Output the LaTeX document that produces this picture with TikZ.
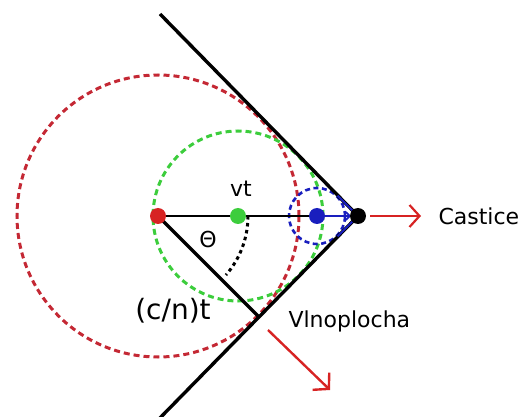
\documentclass[tikz,border=0pt]{standalone}
\usepackage{fontspec}
\setmainfont{DejaVu Sans}
\usetikzlibrary{arrows.meta}
\definecolor{circRed}{RGB}{196, 40, 52}
\definecolor{circGreen}{RGB}{60, 205, 60}
\definecolor{circBlue}{RGB}{25, 30, 190}
\definecolor{arrRed}{RGB}{215, 35, 35}

\begin{document}
\begin{tikzpicture}[x=1pt, y=-1pt,
    dot/.style={circle, inner sep=0pt, minimum size=16pt},
    wavefront/.style={line width=3pt, dash pattern=on 6pt off 4pt},
    lbl/.style={font=\fontsize{22}{26}\selectfont}]
    \useasboundingbox (0,0) rectangle (523,417);
    % points on the axis
    \coordinate (src) at (158,216);
    \coordinate (vpos) at (238,216);
    \coordinate (bpos) at (317,216);
    \coordinate (tip) at (358,216);
    \coordinate (coneTop) at (160,14);
    \coordinate (coneBot) at (157,421);
    \coordinate (front) at (258,316);
    \coordinate (bTop) at (337.5,195.5);
    \coordinate (bBot) at (337.5,236.5);
    \coordinate (partHead) at (421,216);
    \coordinate (waveTail) at (268,330);
    \coordinate (waveHead) at (330,390);

    % wave fronts
    \draw[circRed, wavefront] (src) circle [radius=141pt];
    \draw[circGreen, wavefront] (vpos) circle [radius=85pt];
    \draw[circBlue, line width=2.6pt, dash pattern=on 5pt off 3.5pt] (bpos) circle [radius=28pt];

    % cone and axis
    \draw[line width=3.4pt] (coneTop) -- (tip) -- (coneBot);
    \draw[circBlue, line width=2pt] (bTop) -- (tip) -- (bBot);
    \draw[line width=2.4pt] (src) -- (tip);
    \draw[circBlue, line width=1.6pt, -{Straight Barb[length=4pt,width=8pt]}] (bpos) -- ([xshift=-7pt]tip);
    \draw[line width=3.4pt] (src) -- (front);
    \draw[line width=3pt, dash pattern=on 3.5pt off 3.5pt] (src) ++(90,0) arc [start angle=0, end angle=-41, radius=90pt];

    % arrows
    \draw[arrRed, line width=2.2pt, -{Straight Barb[length=10pt,width=22pt]}] ([xshift=12pt]tip) -- (partHead);
    \draw[arrRed, line width=2.4pt, -{Straight Barb[length=11pt,width=24pt]}] (waveTail) -- (waveHead);

    % dots
    \node[dot, fill=arrRed] (srcDot) at (src) {};
    \node[dot, fill=circGreen] (vDot) at (vpos) {};
    \node[dot, fill=circBlue] (bDot) at (bpos) {};
    \node[dot, fill=black] (tipDot) at (tip) {};

    % labels
    \node[lbl] (vtLbl) at (241,189) {vt};
    \node[lbl] (thLbl) at (208,239) {Θ};
    \node[font=\fontsize{28}{32}\selectfont] (cnLbl) at (173,311) {(c/n)t};
    \node[lbl, anchor=west] (waveLbl) at (285,321) {Vlnoplocha};
    \node[lbl, anchor=west] (partLbl) at (435,216) {Castice};
\end{tikzpicture}
\end{document}
